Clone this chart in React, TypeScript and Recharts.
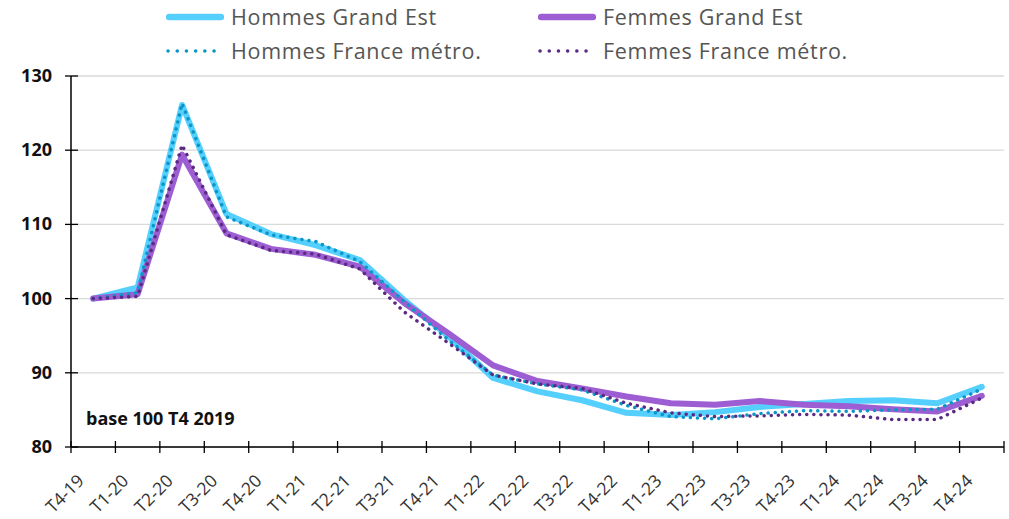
import { CartesianGrid, Line, LineChart, XAxis, YAxis } from "recharts"

const categories = [
  "T4-19", "T1-20", "T2-20", "T3-20", "T4-20", "T1-21", "T2-21", "T3-21", "T4-21", "T1-22", "T2-22",
  "T3-22", "T4-22", "T1-23", "T2-23", "T3-23", "T4-23", "T1-24", "T2-24", "T3-24", "T4-24",
]
const hommesGrandEst = [100, 101.5, 126.1, 111.4, 108.7, 107.2, 105.2, 99.8, 94.9, 89.3, 87.5, 86.3, 84.6, 84.3, 84.7, 85.4, 85.8, 86.2, 86.3, 85.9, 88.1]
const femmesGrandEst = [100, 100.6, 119.4, 108.8, 106.7, 105.9, 104.3, 99.4, 95.3, 91.0, 88.9, 87.9, 86.8, 85.9, 85.7, 86.2, 85.7, 85.5, 85.1, 84.8, 86.9]
const hommesFrance = [100, 100.8, 126.3, 111.0, 108.6, 107.7, 105.0, 99.6, 94.4, 89.7, 88.5, 87.7, 85.6, 84.1, 83.8, 84.5, 84.9, 84.8, 85.0, 85.1, 87.8]
const femmesFrance = [100, 100.3, 120.7, 108.6, 106.5, 106.0, 104.0, 98.2, 94.0, 89.7, 88.5, 87.9, 85.9, 84.6, 84.1, 84.2, 84.4, 84.3, 83.7, 83.7, 86.6]
const yTicks = [80, 90, 100, 110, 120, 130]

const series = [
  { key: "hge", name: "Hommes Grand Est", color: "#55CFFD", dotted: false },
  { key: "fge", name: "Femmes Grand Est", color: "#9D5DD3", dotted: false },
  { key: "hfr", name: "Hommes France métro.", color: "#0A96C6", dotted: true },
  { key: "ffr", name: "Femmes France métro.", color: "#5B2A82", dotted: true },
]

const data = categories.map((c, i) => ({
  i,
  name: c,
  hge: hommesGrandEst[i],
  fge: femmesGrandEst[i],
  hfr: hommesFrance[i],
  ffr: femmesFrance[i],
}))

const W = 1009
const H = 519
const LEFT = 71
const RIGHT = 5
const HALF_BAND = (W - LEFT - RIGHT) / categories.length / 2
const FONT = "'Open Sans', sans-serif"

function XTick(props: any) {
  const { x, y, payload, index } = props
  const label = categories[payload.value] ?? ""
  const ax = x - 8
  const ay = y + 35
  return (
    <g>
      <line x1={x - HALF_BAND} x2={x - HALF_BAND} y1={y - 6} y2={y + 6} stroke="#000" strokeWidth={1.3} />
      {index === categories.length - 1 && (
        <line x1={x + HALF_BAND} x2={x + HALF_BAND} y1={y - 6} y2={y + 6} stroke="#000" strokeWidth={1.3} />
      )}
      <text
        x={ax}
        y={ay}
        textAnchor="end"
        transform={`rotate(-45 ${ax} ${ay})`}
        fontSize={17.5}
        fill="#333"
        fontFamily={FONT}
      >
        {label}
      </text>
    </g>
  )
}

function YTick(props: any) {
  const { x, y, payload } = props
  return (
    <g>
      <line x1={x - 6} x2={x + 7} y1={y} y2={y} stroke="#000" strokeWidth={1.3} />
      <text x={x - 19} y={y} dy={6} textAnchor="end" fontSize={18} fontWeight={700} fill="#111" fontFamily={FONT}>
        {payload.value}
      </text>
    </g>
  )
}

function LegendItem({ s }: { s: (typeof series)[number] }) {
  return (
    <div style={{ display: "flex", alignItems: "center", height: 34 }}>
      <svg width={58} height={10} style={{ marginRight: 7, flex: "none" }}>
        {s.dotted ? (
          <line x1={2} x2={57} y1={5} y2={5} stroke={s.color} strokeWidth={3.5} strokeLinecap="round" strokeDasharray="0.1 9.1" />
        ) : (
          <line x1={3} x2={55} y1={5} y2={5} stroke={s.color} strokeWidth={6.5} strokeLinecap="round" />
        )}
      </svg>
      <span style={{ fontSize: 21.5, letterSpacing: 0.7, lineHeight: "34px", color: "#555", fontFamily: FONT, whiteSpace: "nowrap" }}>
        {s.name}
      </span>
    </div>
  )
}

export default function App() {
  return (
    <div style={{ position: "absolute", left: 0, top: 0, width: W, height: H, background: "#fff" }}>
      <div style={{ position: "absolute", left: 166, top: 0, display: "grid", gridTemplateColumns: "372px auto" }}>
        {series.map((s) => (
          <LegendItem key={s.key} s={s} />
        ))}
      </div>
      <LineChart width={W} height={H} data={data} margin={{ top: 76, right: RIGHT, left: 0, bottom: 0 }}>
        <CartesianGrid vertical={false} stroke="#d9d9d9" strokeWidth={1.3} />
        <XAxis
          dataKey="i"
          type="number"
          domain={[-0.5, categories.length - 0.5]}
          ticks={categories.map((_, i) => i)}
          interval={0}
          height={72}
          tickLine={false}
          tickSize={0}
          tickMargin={0}
          axisLine={{ stroke: "#000", strokeWidth: 1.5 }}
          tick={<XTick />}
        />
        <YAxis
          width={LEFT}
          domain={[80, 130]}
          ticks={yTicks}
          interval={0}
          axisLine={{ stroke: "#000", strokeWidth: 1.5 }}
          tickLine={false}
          tickSize={0}
          tickMargin={0}
          tick={<YTick />}
        />
        {series.map((s) => (
          <Line
            key={s.key}
            dataKey={s.key}
            name={s.name}
            stroke={s.color}
            strokeWidth={s.dotted ? 3.5 : 6}
            strokeLinecap="round"
            strokeLinejoin="round"
            strokeDasharray={s.dotted ? "0.1 7" : undefined}
            dot={false}
            activeDot={false}
            isAnimationActive={false}
          />
        ))}
      </LineChart>
      <div style={{ position: "absolute", left: 86, top: 409, fontSize: 18, lineHeight: "18px", fontWeight: 700, fontFamily: FONT, color: "#111" }}>
        base 100 T4 2019
      </div>
    </div>
  )
}
